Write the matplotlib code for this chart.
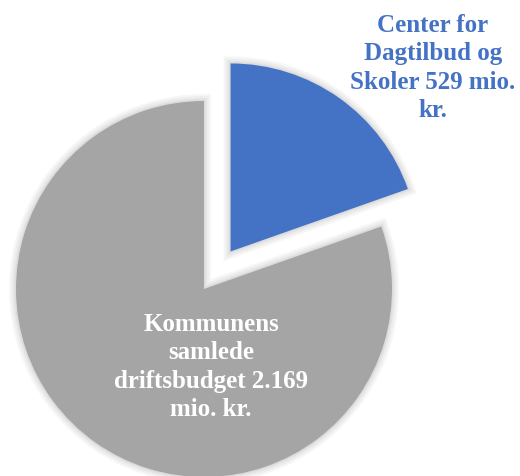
import matplotlib.pyplot as plt
from matplotlib.patches import Wedge

labels = ['Center for\nDagtilbud og\nSkoler 529 mio.\nkr.',
          'Kommunens\nsamlede\ndriftsbudget 2.169\nmio. kr.']
values = [529, 2169]
colors = ['#4472C4', '#A5A5A5']
explode = [46, 0]

fig = plt.figure(figsize=(5.2, 4.76), dpi=100)
ax = fig.add_axes([0, 0, 1, 1])

wedges, _ = ax.pie(values, colors=colors, explode=explode, startangle=90,
                   counterclock=False, center=(204, 187), radius=188,
                   wedgeprops=dict(linewidth=0), frame=True)
ax.set_xlim(0, 520)
ax.set_ylim(0, 476)
ax.set_aspect('equal')
ax.axis('off')

# soft shadow behind each slice
for w in wedges:
    for lw in [10, 7, 4, 2]:
        sh = Wedge(w.center, w.r, w.theta1, w.theta2, facecolor='none',
                   edgecolor='black', linewidth=lw, alpha=0.035, zorder=0.5)
        ax.add_patch(sh)
    w.set_zorder(1)

font = ['Liberation Serif', 'DejaVu Serif']
ax.text(433, 408, labels[0], ha='center', va='center', color='#4472C4',
        fontsize=18, fontweight='bold', family=font, linespacing=1.3)
ax.text(211, 109, labels[1], ha='center', va='center', color='white',
        fontsize=18, fontweight='bold', family=font, linespacing=1.3, zorder=3)

fig.savefig('out.png', dpi=100)
